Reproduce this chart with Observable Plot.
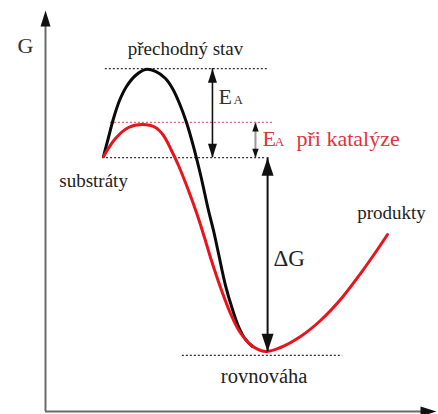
<!DOCTYPE html>
<html><head><meta charset="utf-8">
<script src="https://cdn.jsdelivr.net/npm/d3@7"></script>
<script src="https://cdn.jsdelivr.net/npm/@observablehq/plot@0.6"></script>
<style>body{margin:0;background:#fff}</style>
</head><body><div id="chart"></div>
<script>
// Energy levels (reaction coordinate 0–100, free energy G 0–100)
const levelNames = ["přechodný stav", "přechodný stav (katalýza)", "substráty", "rovnováha"];
const levelG  = [85.5, 72.1, 63.3, 14.0];
const levelX1 = [15.3, 16.6, 14.6, 35.0];
const levelX2 = [56.8, 58.1, 56.3, 76.0];

// Uncatalysed reaction (black)
const blackX = [14.83, 16.11, 17.39, 18.93, 20.72, 23.02, 25.58, 28.13, 30.69, 32.48, 34.27, 36.06, 37.85, 39.64, 41.69, 42.97, 44.25, 46.04, 47.83, 49.36, 51.15, 52.94];
const blackG = [63.59, 68.33, 73.07, 77.56, 81.05, 83.79, 85.29, 84.79, 83.04, 80.55, 76.81, 72.07, 66.08, 59.10, 50.12, 45.14, 39.40, 31.42, 25.44, 21.20, 17.96, 16.21];

// Catalysed reaction (red)
const redX = [14.83, 17.90, 21.23, 24.81, 28.13, 30.18, 31.97, 34.02, 36.57, 38.87, 40.66, 42.20, 44.76, 47.31, 49.62, 52.69, 56.27, 60.10, 65.22, 70.33, 75.45, 80.56, 84.91, 87.47];
const redG = [63.59, 68.08, 70.82, 71.57, 70.82, 68.83, 65.59, 61.35, 55.11, 48.88, 43.39, 38.40, 30.92, 24.44, 19.95, 16.46, 14.96, 15.96, 18.70, 22.69, 27.93, 34.41, 40.40, 44.14];

// Double-headed arrows: E_A, E_A při katalýze, ΔG
const arrowNames = ["EA", "EAcat", "dG"];
const arrowX = [42.7, 53.7, 56.8];
const arrowFrom = [85.5, 72.1, 63.3];
const arrowTo = [63.3, 63.3, 14.9];

// Axes
const axisMax = 100;

// Labels
const labelText = ["přechodný stav", "substráty", "produkty", "rovnováha"];
const labelX = [35.8, 12.3, 88.5, 55.9];
const labelG = [89.0, 55.9, 48.1, 7.2];
const labelSize = [19, 19, 19, 20.5];

const line = (xs, gs) => xs.map((x, i) => ({x, G: gs[i]}));
const levels = levelG.map((G, i) => ({name: levelNames[i], G, x1: levelX1[i], x2: levelX2[i]}));
const arrows = arrowX.map((x, i) => ({name: arrowNames[i], x, y1: arrowFrom[i], y2: arrowTo[i]}));
const labels = labelText.map((t, i) => ({t, x: labelX[i], G: labelG[i], s: labelSize[i]}));

const triHead = {draw(ctx, l, r) { ctx.moveTo(0, -l); ctx.lineTo(r, 0); ctx.lineTo(-r, 0); ctx.closePath(); }};
const heads = (a) => [{x: a.x, G: a.y1, rotate: 0}, {x: a.x, G: a.y2, rotate: 180}];
const serif = "Liberation Serif";

const chart = Plot.plot({
  width: 438, height: 414,
  marginLeft: 45, marginRight: 2, marginTop: 10, marginBottom: 3,
  x: {domain: [0, 100], axis: null},
  y: {domain: [0, 100], axis: null},
  style: {background: "#fff", overflow: "visible", fontFamily: serif},
  marks: [
    Plot.ruleY(levels.filter(d => d.name !== "přechodný stav (katalýza)"), {y: "G", x1: "x1", x2: "x2", stroke: "#333", strokeWidth: 1.4, strokeDasharray: "2,2"}),
    Plot.ruleY(levels.filter(d => d.name === "přechodný stav (katalýza)"), {y: "G", x1: "x1", x2: "x2", stroke: "#e8646c", strokeWidth: 1.4, strokeDasharray: "2,2"}),
    Plot.line(line(blackX, blackG), {x: "x", y: "G", curve: "catmull-rom", stroke: "#0a0a0a", strokeWidth: 3}),
    Plot.line(line(redX, redG), {x: "x", y: "G", curve: "catmull-rom", stroke: "#e8141c", strokeWidth: 3}),
    Plot.ruleX(arrows.filter(a => a.name === "EA"), {x: "x", y1: "y1", y2: "y2", stroke: "#111", strokeWidth: 1.6}),
    Plot.ruleX(arrows.filter(a => a.name === "EAcat"), {x: "x", y1: "y1", y2: "y2", stroke: "#999", strokeWidth: 2}),
    Plot.ruleX(arrows.filter(a => a.name === "dG"), {x: "x", y1: "y1", y2: "y2", stroke: "#111", strokeWidth: 2}),
    Plot.vector(heads(arrows[0]), {x: "x", y: "G", rotate: "rotate", length: 14, r: 4.5, anchor: "end", shape: triHead, fill: "#111", stroke: "none"}),
    Plot.vector(heads(arrows[1]), {x: "x", y: "G", rotate: "rotate", length: 9, r: 3.2, anchor: "end", shape: triHead, fill: "#111", stroke: "none"}),
    Plot.vector(heads(arrows[2]), {x: "x", y: "G", rotate: "rotate", length: 18, r: 6, anchor: "end", shape: triHead, fill: "#111", stroke: "none"}),
    Plot.ruleX([0], {y1: 0, y2: axisMax - 2, stroke: "#6a6a6a", strokeWidth: 2}),
    Plot.ruleY([0], {x1: 0, x2: axisMax - 2, stroke: "#6a6a6a", strokeWidth: 2}),
    Plot.vector([{x: 0, G: axisMax}], {x: "x", y: "G", rotate: 0, length: 16, r: 5, anchor: "end", shape: triHead, fill: "#111", stroke: "none"}),
    Plot.vector([{x: axisMax, G: 0}], {x: "x", y: "G", rotate: 90, length: 16, r: 5, anchor: "end", shape: triHead, fill: "#111", stroke: "none"}),
    Plot.text(["G"], {x: 0, y: 89.3, dx: -20, text: d => d, fontFamily: serif, fontSize: 22, fill: "#333", lineAnchor: "bottom", textAnchor: "middle"}),
    ...labels.map(l => Plot.text([l], {x: "x", y: "G", text: "t", fontFamily: serif, fontSize: l.s, fill: "#222", lineAnchor: "bottom", textAnchor: "middle"})),
    Plot.text(["ΔG"], {x: 58.3, y: 36.2, text: d => d, fontFamily: serif, fontSize: 23, fill: "#222", lineAnchor: "bottom", textAnchor: "start"}),
    Plot.text(["E"], {x: 44.25, y: 76.8, text: d => d, fontFamily: serif, fontSize: 22, fill: "#333", lineAnchor: "bottom", textAnchor: "start"}),
    Plot.text(["A"], {x: 48.1, y: 76.6, text: d => d, fontFamily: serif, fontSize: 13, fill: "#333", lineAnchor: "bottom", textAnchor: "start"}),
    Plot.text(["E"], {x: 55.5, y: 66.3, text: d => d, fontFamily: serif, fontSize: 22, fill: "#e3323c", lineAnchor: "bottom", textAnchor: "start"}),
    Plot.text(["A"], {x: 58.6, y: 66.1, text: d => d, fontFamily: serif, fontSize: 13, fill: "#e3323c", lineAnchor: "bottom", textAnchor: "start"}),
    Plot.text(["při katalýze"], {x: 64.2, y: 66.3, text: d => d, fontFamily: serif, fontSize: 22, fill: "#e3323c", lineAnchor: "bottom", textAnchor: "start"})
  ]
});
document.getElementById("chart").appendChild(chart);
</script>
</body></html>
